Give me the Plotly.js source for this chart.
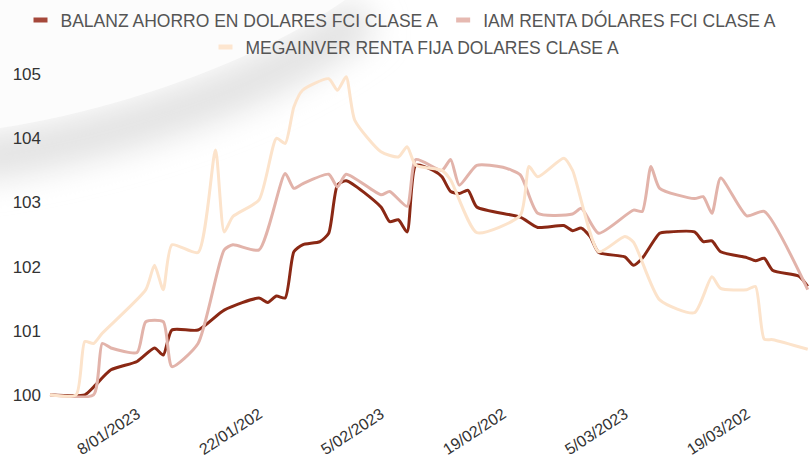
<!DOCTYPE html>
<html>
<head>
<meta charset="utf-8">
<script src="https://cdn.plot.ly/plotly-3.0.1.min.js"></script>
<style>html,body{margin:0;padding:0;background:#fff;}#chart{width:810px;height:460px;}</style>
</head>
<body>
<div id="chart"></div>
<script>
// ---- Data ----
const seriesNames = [
  "BALANZ AHORRO EN DOLARES FCI CLASE A",
  "IAM RENTA DÓLARES FCI CLASE A",
  "MEGAINVER RENTA FIJA DOLARES CLASE A"
];

const balanzDates = ["2022-12-29","2023-01-02","2023-01-03","2023-01-05","2023-01-08","2023-01-10","2023-01-11","2023-01-12","2023-01-15","2023-01-18","2023-01-22","2023-01-23","2023-01-24","2023-01-25","2023-01-26","2023-01-27","2023-01-29","2023-01-30","2023-01-31","2023-02-01","2023-02-05","2023-02-06","2023-02-07","2023-02-08","2023-02-09","2023-02-11","2023-02-12","2023-02-13","2023-02-14","2023-02-15","2023-02-16","2023-02-21","2023-02-23","2023-02-26","2023-02-27","2023-02-28","2023-03-01","2023-03-02","2023-03-05","2023-03-06","2023-03-07","2023-03-09","2023-03-10","2023-03-13","2023-03-14","2023-03-15","2023-03-16","2023-03-19","2023-03-20","2023-03-21","2023-03-22","2023-03-25","2023-03-26"];
const balanzValues = [100,100,100.12,100.39,100.52,100.73,100.62,101.01,101.01,101.32,101.51,101.44,101.54,101.51,102.23,102.34,102.39,102.52,103.27,103.34,102.93,102.70,102.73,102.54,103.58,103.50,103.40,103.17,103.14,103.19,102.93,102.77,102.61,102.64,102.56,102.60,102.47,102.22,102.15,102.02,102.13,102.52,102.54,102.54,102.39,102.40,102.23,102.14,102.09,102.13,101.94,101.85,101.69];

const iamDates = ["2022-12-29","2023-01-03","2023-01-04","2023-01-05","2023-01-08","2023-01-09","2023-01-11","2023-01-12","2023-01-15","2023-01-18","2023-01-19","2023-01-22","2023-01-25","2023-01-26","2023-01-27","2023-01-30","2023-01-31","2023-02-01","2023-02-05","2023-02-06","2023-02-08","2023-02-09","2023-02-12","2023-02-13","2023-02-14","2023-02-16","2023-02-19","2023-02-21","2023-02-23","2023-02-27","2023-02-28","2023-03-02","2023-03-06","2023-03-07","2023-03-08","2023-03-09","2023-03-13","2023-03-14","2023-03-15","2023-03-16","2023-03-19","2023-03-21","2023-03-26"];
const iamValues = [100,100,100.80,100.73,100.66,101.14,101.14,100.44,100.80,102.26,102.34,102.26,103.45,103.22,103.29,103.44,103.24,103.44,103.12,103.17,102.94,103.67,103.50,103.67,103.27,103.58,103.55,103.43,102.83,102.82,102.91,102.52,102.88,102.86,103.56,103.22,103.06,103.09,102.83,103.38,102.79,102.86,101.64];

const megaDates = ["2022-12-29","2023-01-01","2023-01-02","2023-01-03","2023-01-04","2023-01-09","2023-01-10","2023-01-11","2023-01-12","2023-01-15","2023-01-17","2023-01-18","2023-01-19","2023-01-22","2023-01-24","2023-01-25","2023-01-26","2023-01-27","2023-01-30","2023-01-31","2023-02-01","2023-02-02","2023-02-05","2023-02-07","2023-02-08","2023-02-09","2023-02-12","2023-02-13","2023-02-16","2023-02-21","2023-02-22","2023-02-23","2023-02-26","2023-02-27","2023-03-02","2023-03-05","2023-03-06","2023-03-09","2023-03-13","2023-03-15","2023-03-16","2023-03-19","2023-03-20","2023-03-21","2023-03-22","2023-03-26"];
const megaValues = [100,100,100.83,100.80,100.96,101.64,102.02,101.64,102.34,102.22,103.82,102.54,102.78,103.04,104.00,103.92,104.49,104.75,104.93,104.75,104.96,104.28,103.79,103.71,103.87,103.58,103.50,103.35,102.53,102.80,103.56,103.40,103.69,103.50,102.23,102.47,102.38,101.48,101.28,101.84,101.66,101.64,101.69,100.87,100.86,100.71];

const xTickVals = ["2023-01-08","2023-01-22","2023-02-05","2023-02-19","2023-03-05","2023-03-19"];
const xTickText = ["8/01/2023","22/01/202","5/02/2023","19/02/202","5/03/2023","19/03/202"];
const yTickVals = [100,101,102,103,104,105];

// ---- Styles ----
const colors = ["#8a2814", "#e2b3aa", "#fce3cb"];
const swatchColors = ["#a5483a", "#e6b9b1", "#fde6d0"];
const FONT = "Liberation Sans, Arial, sans-serif";

const allDates = [balanzDates, iamDates, megaDates];
const allValues = [balanzValues, iamValues, megaValues];

const traces = [];
for (let i = 0; i < 3; i++) {
  traces.push({
    type: "scatter", mode: "lines",
    x: allDates[i], y: allValues[i],
    name: seriesNames[i], showlegend: false,
    line: {color: colors[i], width: 3, shape: "spline", smoothing: 0.6},
    hoverinfo: "skip"
  });
}
// legend-only swatches
for (let i = 0; i < 3; i++) {
  traces.push({
    type: "scatter", mode: "markers",
    x: [null], y: [null],
    name: seriesNames[i], showlegend: true,
    legend: i < 2 ? "legend" : "legend2",
    marker: {symbol: "line-ew", size: 10, color: swatchColors[i], line: {width: 7, color: swatchColors[i]}}
  });
}

const svg = "<svg xmlns='http://www.w3.org/2000/svg' width='810' height='460' viewBox='0 0 810 460'>" +
  "<defs><filter id='b' x='-50%' y='-50%' width='200%' height='200%'><feGaussianBlur stdDeviation='16'/></filter></defs>" +
  "<path d='M-30,160 C110,140 270,90 365,15' stroke='#e2e2e2' stroke-width='44' fill='none' filter='url(#b)'/>" +
  "<path d='M-20,-20 L-20,131 L0,128 C120,110 260,60 345,0 L345,-20 Z' fill='#fcfcfc'/>" +
  "</svg>";

const W = 810, H = 460, ml = 48, mr = 0, mt = 55, mb = 62;
const pw = W - ml - mr, ph = H - mt - mb;

const layout = {
  width: W, height: H,
  margin: {l: ml, r: mr, t: mt, b: mb, pad: 0},
  paper_bgcolor: "#ffffff",
  plot_bgcolor: "rgba(0,0,0,0)",
  font: {family: FONT, size: 16, color: "#333"},
  xaxis: {
    type: "date",
    range: ["2022-12-28 18:30", "2023-03-26 06:15"],
    tickmode: "array", tickvals: xTickVals, ticktext: xTickText,
    tickangle: -33,
    ticklabelstandoff: 3,
    tickfont: {family: FONT, size: 16, color: "#333"},
    showgrid: false, zeroline: false, showline: false, ticks: ""
  },
  yaxis: {
    range: [99.95, 105.3],
    tickmode: "array", tickvals: yTickVals,
    ticklabelstandoff: 6,
    tickfont: {family: FONT, size: 17, color: "#333"},
    showgrid: false, zeroline: false, showline: false, ticks: ""
  },
  legend: {
    orientation: "h", x: (401 - ml) / pw, xanchor: "center",
    y: 1 + (mt - 2) / ph, yanchor: "top",
    font: {family: FONT, size: 17.5, color: "#555"},
    itemwidth: 30, bgcolor: "rgba(0,0,0,0)"
  },
  legend2: {
    orientation: "h", x: (415 - ml) / pw, xanchor: "center",
    y: 1 + (mt - 29) / ph, yanchor: "top",
    font: {family: FONT, size: 17.5, color: "#555"},
    itemwidth: 30, bgcolor: "rgba(0,0,0,0)"
  },
  images: [{
    source: "data:image/svg+xml;charset=utf-8," + encodeURIComponent(svg),
    xref: "paper", yref: "paper",
    x: -ml / pw, y: 1 + mt / ph,
    sizex: W / pw, sizey: H / ph,
    sizing: "stretch", xanchor: "left", yanchor: "top",
    layer: "below"
  }]
};

Plotly.newPlot("chart", traces, layout, {displayModeBar: false, staticPlot: true});
</script>
</body>
</html>
